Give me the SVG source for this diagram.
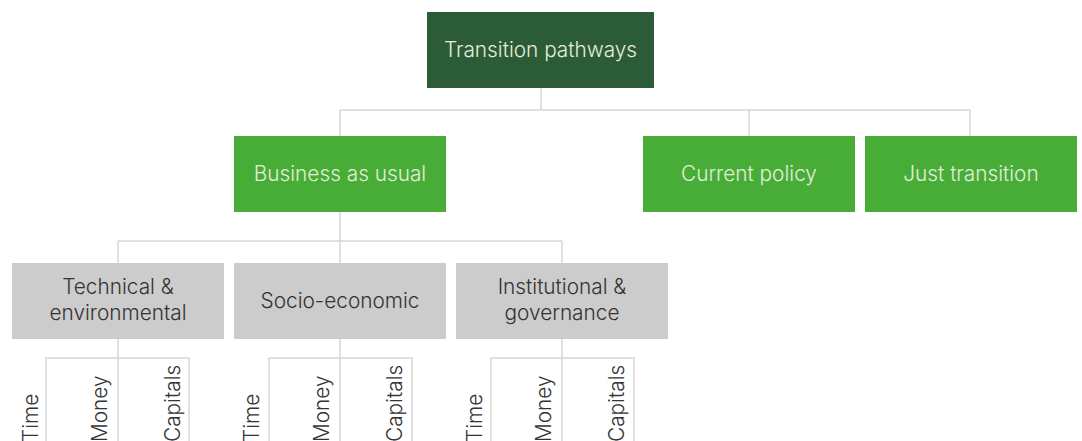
<svg xmlns="http://www.w3.org/2000/svg" width="1082" height="441" viewBox="0 0 1082 441">
<style>
text{font-family:Inter,Roboto,"Liberation Sans",sans-serif;font-weight:300;font-size:20.8px}
.c{text-anchor:middle}
.lt{fill:#e3eedc}
.dk{fill:#333333}
.v{font-size:21.5px}
.ln{stroke:#d6d6d6;stroke-width:1.5;fill:none}
.g1{fill:#2c5b37}
.g2{fill:#47ad36}
.gr{fill:#cccccc}
</style>
<rect width="1082" height="441" fill="#ffffff"/>
<g id="connectors" class="ln">
<path d="M541 88V110M340 110H970M340 110V136M749 110V136M970 110V136"/>
<path d="M340 212V263M118 241H562M118 241V263M562 241V263"/>
<path d="M46 441V358H189V441M118 339V441"/>
<path d="M269 441V358H412V441M340 339V441"/>
<path d="M491 441V358H634V441M562 339V441"/>
</g>
<g id="root"><rect class="g1" x="427" y="12" width="227" height="76"/><text class="c lt" x="540.5" y="57">Transition pathways</text></g>
<g id="bau"><rect class="g2" x="234" y="136" width="212" height="76"/><text class="c lt" x="340" y="181">Business as usual</text></g>
<g id="cp"><rect class="g2" x="643" y="136" width="212" height="76"/><text class="c lt" x="749" y="181">Current policy</text></g>
<g id="jt"><rect class="g2" x="865" y="136" width="212" height="76"/><text class="c lt" x="971" y="181">Just transition</text></g>
<g id="tech"><rect class="gr" x="12" y="263" width="212" height="76"/><text class="c dk" x="118" y="294">Technical &amp;</text><text class="c dk" x="118" y="320">environmental</text></g>
<g id="socio"><rect class="gr" x="234" y="263" width="212" height="76"/><text class="c dk" x="340" y="308">Socio-economic</text></g>
<g id="inst"><rect class="gr" x="456" y="263" width="212" height="76"/><text class="c dk" x="562" y="294">Institutional &amp;</text><text class="c dk" x="562" y="320">governance</text></g>
<g id="leaves1" class="dk v">
<text transform="translate(38 442) rotate(-90)">Time</text>
<text transform="translate(107 442) rotate(-90)">Money</text>
<text transform="translate(180 442) rotate(-90)">Capitals</text>
</g>
<g id="leaves2" class="dk v">
<text transform="translate(259 442) rotate(-90)">Time</text>
<text transform="translate(329 442) rotate(-90)">Money</text>
<text transform="translate(402 442) rotate(-90)">Capitals</text>
</g>
<g id="leaves3" class="dk v">
<text transform="translate(482 442) rotate(-90)">Time</text>
<text transform="translate(551 442) rotate(-90)">Money</text>
<text transform="translate(624 442) rotate(-90)">Capitals</text>
</g>
</svg>
